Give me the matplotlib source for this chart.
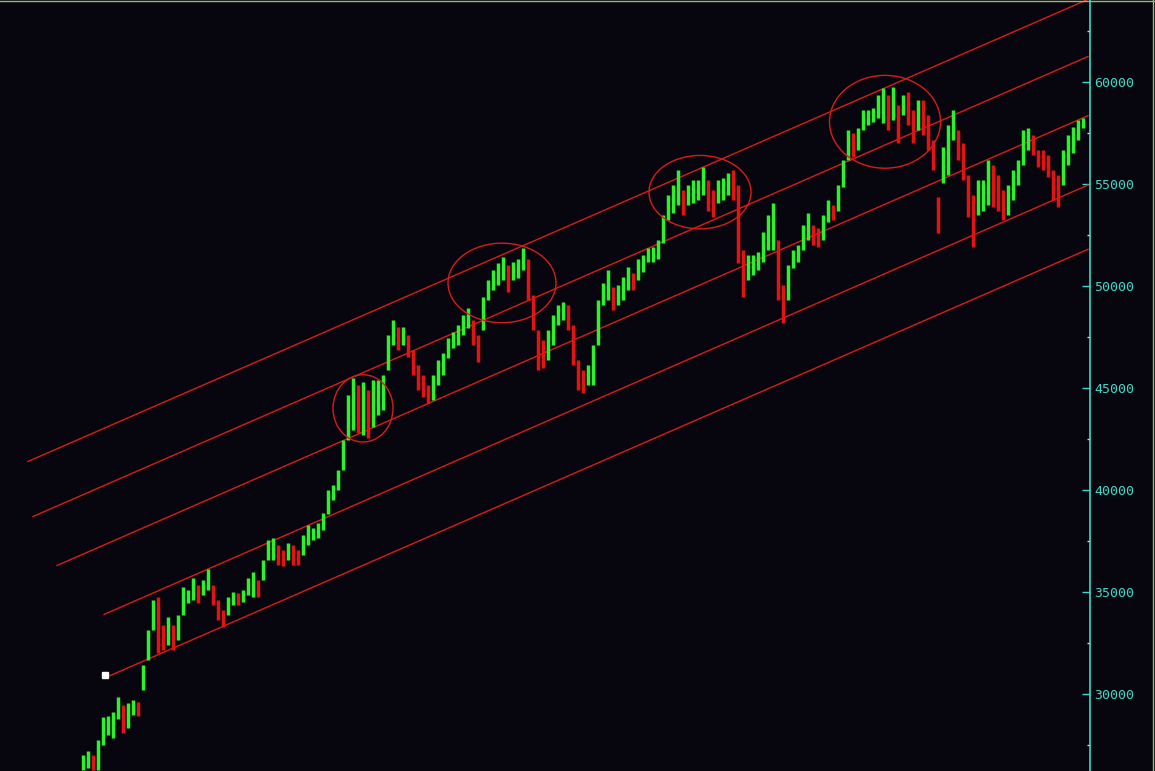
import numpy as np
import matplotlib.pyplot as plt
from matplotlib.patches import Ellipse

# bar highs / lows (one bar every ~5 px of the original chart)
highs = [27000, 27200, 27000, 27750, 28850, 28900, 29100, 29850, 29450, 29550,
         29700, 29600, 31400, 33150, 34600, 34750, 33400, 33750, 33400, 33850,
         35250, 35100, 35700, 35350, 35600, 36150, 35350, 34600, 34100, 34750,
         35000, 34950, 35100, 35700, 36000, 35600, 36550, 37550, 37650, 37300,
         37050, 37400, 37300, 37050, 37800, 38300, 38150, 38400, 38850, 40000,
         40250, 41000, 42450, 44650, 45500, 45150, 45300, 44900, 45400, 45400,
         45650, 47600, 48350, 48000, 48000, 47600, 46850, 46150, 45650, 45150,
         45650, 46350, 46700, 47450, 47750, 48100, 48600, 48900, 48350, 47600,
         49450, 50300, 50800, 51150, 51400, 51050, 51200, 51300, 51850, 51300,
         49550, 47850, 47350, 47850, 48600, 49050, 49200, 49050, 48100, 46350,
         45900, 46150, 47100, 49300, 50150, 50800, 49950, 50050, 50450, 50950,
         50650, 51300, 51500, 51850, 51900, 52250, 53500, 54450, 54950, 55700,
         54700, 54950, 55200, 55200, 55850, 55200, 54700, 55200, 55300, 55550,
         55700, 54950, 51750, 51500, 51500, 51650, 52650, 53500, 54050, 52250,
         50050, 51050, 51750, 52000, 53000, 53600, 53000, 52850, 53500, 54200,
         53950, 54950, 56200, 57650, 57500, 57750, 58650, 58650, 58750, 59350,
         59700, 59350, 59750, 58850, 59350, 59500, 58650, 59100, 59100, 58400,
         57150, 54350, 56800, 57900, 58650, 57650, 57000, 55450, 54450, 55200,
         55200, 56200, 55950, 55450, 54700, 54950, 55700, 56200, 57650, 57750,
         57400, 56650, 56650, 56400, 55700, 55450, 56650, 57400, 57800, 58150,
         58250]
lows = [26250, 26350, 26250, 26250, 27500, 28000, 27850, 28750, 28100, 28350,
        28950, 28900, 30200, 31650, 33150, 32000, 32150, 32400, 32150, 32650,
        33850, 34450, 34600, 34450, 34850, 35100, 34350, 33650, 33300, 33850,
        34350, 34350, 34500, 34850, 34750, 34750, 35600, 36550, 36550, 36300,
        36250, 36550, 36300, 36300, 36800, 37300, 37550, 37650, 38050, 38800,
        39500, 40000, 41000, 42450, 42950, 42800, 42700, 42550, 43100, 43700,
        43900, 45900, 47100, 46850, 47100, 46500, 45650, 44900, 44550, 44250,
        44400, 45150, 45650, 46450, 46950, 47100, 47600, 47950, 47100, 46250,
        47850, 49300, 49800, 50050, 50300, 49700, 50300, 50400, 50800, 49300,
        47850, 45900, 46000, 46350, 47100, 48100, 48350, 47850, 46150, 44900,
        44750, 45150, 45150, 47100, 49050, 49300, 48800, 49050, 49300, 49800,
        49800, 50300, 50700, 51200, 51200, 51300, 52100, 53250, 53600, 53950,
        53500, 53950, 54050, 54200, 54450, 53700, 53400, 54050, 54200, 54450,
        54200, 51150, 49450, 50300, 50550, 50800, 51200, 51750, 51750, 49300,
        48200, 49300, 50900, 51200, 51750, 52250, 52000, 51900, 52250, 53150,
        53250, 53700, 54850, 56200, 56300, 56650, 57650, 57900, 58050, 58250,
        58000, 57650, 58150, 57000, 58400, 57900, 57000, 57650, 57400, 56650,
        55700, 52600, 55050, 55450, 57150, 56200, 55200, 53400, 51900, 53500,
        53700, 53950, 53850, 53700, 53250, 53500, 54200, 54950, 55950, 56650,
        56400, 55850, 55700, 55350, 54200, 53850, 54950, 55950, 56500, 57150,
        57750]

# parallel channel lines: (start bar, start price, end bar, end price)
channel_lines = [
    (-11.0, 41400, 201.0, 64050),
    (-10.0, 38700, 201.0, 61250),
    (-5.2, 36300, 201.0, 58350),
    (4.2, 33900, 201.0, 54950),
    (5.4, 30900, 201.0, 51800),
]

# circled tops: (center bar, center price, width in bars, height in price)
circles = [
    (56.0, 44000, 12.0, 3300),
    (83.8, 50150, 21.6, 3900),
    (123.4, 54600, 20.4, 3600),
    (160.4, 58050, 22.2, 4550),
]

anchor = (4.4, 30950)

major_ticks = [30000, 35000, 40000, 45000, 50000, 55000, 60000]
minor_ticks = [27500, 32500, 37500, 42500, 47500, 52500, 57500, 62500]

bg = '#07050d'
cyan = '#3fd8c8'
up_color = '#2cf22c'
down_color = '#e01414'
line_red = '#d81c1c'

highs = np.array(highs)
lows = np.array(lows)
idx = np.arange(len(highs))
mids = (highs + lows) / 2.0
prev = np.concatenate([[mids[0]], mids[:-1]])
colors = [up_color if m >= p else down_color for m, p in zip(mids, prev)]

fig = plt.figure(figsize=(11.55, 7.71), dpi=100, facecolor=bg)
ax = fig.add_axes([0, 0, 1090 / 1155, 1])
ax.set_facecolor(bg)

ax.vlines(idx, lows, highs, colors=colors, linewidth=2.5, zorder=3)

for x0, y0, x1, y1 in channel_lines:
    ax.plot([x0, x1], [y0, y1], color=line_red, linewidth=1.0, zorder=2)

for cx, cy, w, h in circles:
    ax.add_patch(Ellipse((cx, cy), w, h, fill=False, edgecolor=line_red,
                         linewidth=1.0, zorder=4))

ax.plot([anchor[0]], [anchor[1]], marker='s', markersize=3.8, color='white',
        linestyle='none', zorder=5)

ax.set_xlim(-16.6, 201.4)
ax.set_ylim(26225, 64020)

for side in ['left', 'top', 'bottom']:
    ax.spines[side].set_visible(False)
ax.spines['right'].set_color(cyan)
ax.spines['right'].set_linewidth(1.2)

ax.set_xticks([])
ax.yaxis.tick_right()
ax.set_yticks(major_ticks)
ax.set_yticklabels([str(t) for t in major_ticks])
ax.set_yticks(minor_ticks, minor=True)
ax.tick_params(axis='y', which='major', direction='in', length=6, width=1,
               color=cyan, labelcolor=cyan, labelsize=9.5, pad=3)
ax.tick_params(axis='y', which='minor', direction='in', length=2.5, width=1,
               color='#d8d8c0')
for lbl in ax.get_yticklabels():
    lbl.set_fontfamily('DejaVu Sans Mono')

# thin frame on the top and right edge of the window
fig.add_artist(plt.Line2D([0, 1], [0.999, 0.999], transform=fig.transFigure,
                          color='#8fbf6f', linewidth=1))
fig.add_artist(plt.Line2D([1153 / 1155, 1153 / 1155], [0, 1],
                          transform=fig.transFigure, color='#8fbf6f',
                          linewidth=1))

plt.savefig('out.png', dpi=100, facecolor=bg)
plt.close()
